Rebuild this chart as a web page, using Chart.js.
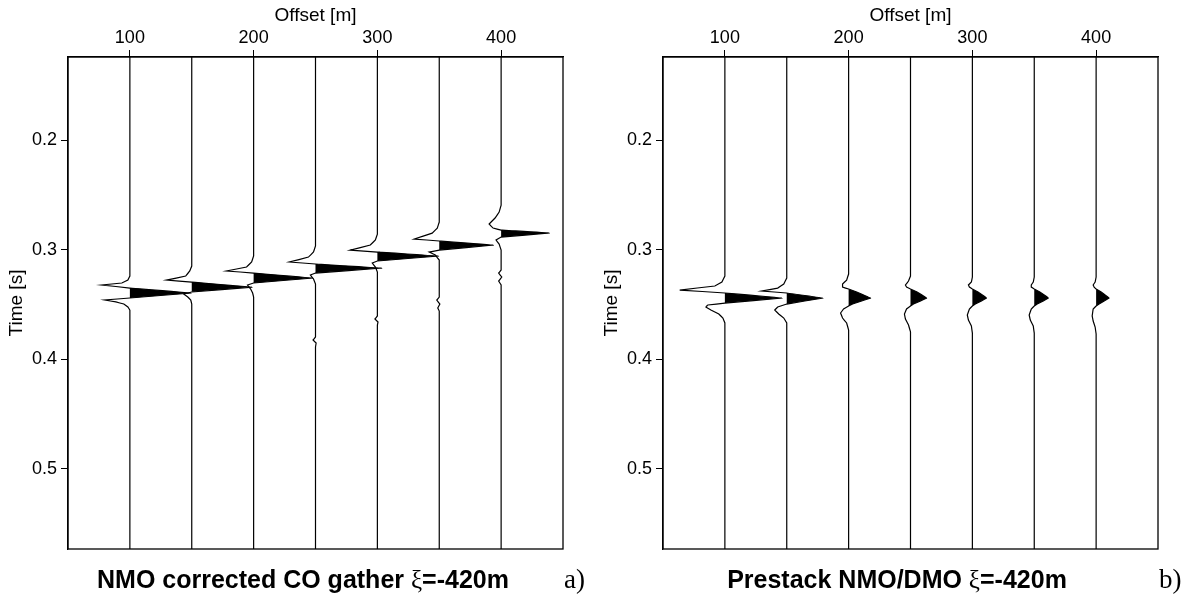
<!DOCTYPE html>
<html>
<head>
<meta charset="utf-8">
<script src="https://cdn.jsdelivr.net/npm/chart.js"></script>
<style>
  body { margin: 0; background: #fff; width: 1199px; height: 598px; overflow: hidden; position: relative; }
  canvas { position: absolute; top: 0; }
  #nmoChart { left: 0; }
  #dmoChart { left: 595px; }
</style>
</head>
<body>
<canvas id="nmoChart" width="600" height="598"></canvas>
<canvas id="dmoChart" width="604" height="598"></canvas>
<script>
// Trace offsets (m) and axis ticks
const offsets = [100, 150, 200, 250, 300, 350, 400];
const offsetTicks = [100, 200, 300, 400];
const timeTicks = [0.2, 0.3, 0.4, 0.5];

// NMO corrected CO gather: [time s, amplitude m] per trace
const nmoTraces = [
  [[0.10,0],[0.3241,0],[0.3278,-1.6],[0.3305,-6.5],[0.3323,-22.7],[0.3351,0],[0.3396,49.4],[0.3442,0],[0.3460,-20.3],[0.3478,-11.3],[0.3497,-4.9],[0.3524,-1.6],[0.3552,0],[0.60,0]],
  [[0.10,0],[0.3150,0],[0.3195,-1.6],[0.3241,-4.9],[0.3278,-20.3],[0.3296,0],[0.3342,48.6],[0.3387,0],[0.3405,-6.5],[0.3433,-3.2],[0.3460,-0.8],[0.3497,0],[0.60,0]],
  [[0.10,0],[0.3058,0],[0.3113,-1.6],[0.3159,-5.7],[0.3195,-21.9],[0.3214,0],[0.3259,47.8],[0.3305,0],[0.3323,-4.9],[0.3360,-2.4],[0.3396,-0.8],[0.3433,0],[0.60,0]],
  [[0.10,0],[0.2967,0],[0.3022,-1.6],[0.3068,-5.7],[0.3113,-21.1],[0.3131,0],[0.3168,53.5],[0.3214,0],[0.3232,-4.1],[0.3268,-1.6],[0.3314,0],[0.3798,0],[0.3826,-2.0],[0.3853,0.5],[0.3889,0],[0.60,0]],
  [[0.10,0],[0.2858,0],[0.2912,-1.6],[0.2958,-5.7],[0.3004,-21.9],[0.3022,0],[0.3058,49.4],[0.3104,0],[0.3122,-4.1],[0.3159,-1.6],[0.3205,0],[0.3606,0],[0.3634,-2.0],[0.3661,0.5],[0.3689,0],[0.60,0]],
  [[0.10,0],[0.2748,0],[0.2803,-1.6],[0.2849,-5.7],[0.2903,-20.3],[0.2921,0],[0.2958,43.7],[0.3004,0],[0.3022,-8.1],[0.3049,-3.2],[0.3095,0],[0.3433,0],[0.3460,-2.0],[0.3497,0.5],[0.3533,-1.2],[0.3561,0],[0.60,0]],
  [[0.10,0],[0.2593,0],[0.2657,-1.6],[0.2711,-4.9],[0.2766,-9.7],[0.2803,-6.5],[0.2821,0],[0.2848,38.9],[0.2885,0],[0.2912,-4.1],[0.2949,-1.6],[0.3004,0],[0.3186,0],[0.3214,-2.0],[0.3250,0.5],[0.3287,-2.0],[0.3323,0],[0.60,0]]
];

// Prestack NMO/DMO: [time s, amplitude m] per trace
const dmoTraces = [
  [[0.10,0],[0.3241,0],[0.3296,-2.4],[0.3332,-8.1],[0.3369,-36.5],[0.3396,0],[0.3442,46.2],[0.3488,0],[0.3506,-13.8],[0.3524,-15.4],[0.3552,-11.3],[0.3588,-4.9],[0.3625,-1.6],[0.3670,0],[0.60,0]],
  [[0.10,0],[0.3259,0],[0.3314,-2.4],[0.3351,-7.3],[0.3378,-20.3],[0.3396,0],[0.3442,29.2],[0.3497,0],[0.3524,-7.3],[0.3552,-9.7],[0.3588,-6.5],[0.3625,-2.4],[0.3670,0],[0.60,0]],
  [[0.10,0],[0.3223,0],[0.3278,-1.6],[0.3314,-4.9],[0.3342,-4.9],[0.3360,0],[0.3387,6.5],[0.3415,12.2],[0.3442,17.8],[0.3469,10.5],[0.3497,3.2],[0.3515,0],[0.3542,-4.1],[0.3579,-6.5],[0.3625,-4.9],[0.3670,-1.6],[0.3734,0],[0.60,0]],
  [[0.10,0],[0.3241,0],[0.3287,-1.6],[0.3323,-4.1],[0.3342,-3.2],[0.3360,0],[0.3387,5.3],[0.3415,9.3],[0.3442,13.0],[0.3469,8.1],[0.3497,2.4],[0.3515,0],[0.3542,-3.2],[0.3588,-4.9],[0.3634,-4.1],[0.3689,-1.6],[0.3752,0],[0.60,0]],
  [[0.10,0],[0.3250,0],[0.3296,-0.8],[0.3323,-3.2],[0.3342,-2.4],[0.3360,0],[0.3387,4.5],[0.3415,8.1],[0.3442,11.3],[0.3469,7.3],[0.3497,2.4],[0.3515,0],[0.3542,-2.4],[0.3597,-4.1],[0.3643,-3.2],[0.3698,-0.8],[0.3762,0],[0.60,0]],
  [[0.10,0],[0.3250,0],[0.3296,-0.8],[0.3323,-2.4],[0.3342,-2.4],[0.3360,0],[0.3387,4.5],[0.3415,8.1],[0.3442,11.3],[0.3469,7.3],[0.3497,2.4],[0.3515,0],[0.3542,-2.4],[0.3597,-4.1],[0.3643,-3.2],[0.3698,-0.8],[0.3762,0],[0.60,0]],
  [[0.10,0],[0.3250,0],[0.3296,-0.8],[0.3323,-2.4],[0.3342,-1.6],[0.3360,0],[0.3387,4.1],[0.3415,7.3],[0.3442,10.5],[0.3469,6.5],[0.3497,2.4],[0.3515,0],[0.3542,-2.4],[0.3606,-3.2],[0.3652,-2.4],[0.3707,-0.8],[0.3771,0],[0.60,0]]
];

Chart.defaults.font.family = "'Liberation Sans', Arial, sans-serif";
Chart.defaults.color = '#000';

// box around the plot area
const framePlugin = {
  id: 'frame',
  afterDraw(chart) {
    const { ctx, chartArea: a } = chart;
    ctx.save();
    ctx.strokeStyle = '#000';
    ctx.lineWidth = 1.3;
    ctx.strokeRect(a.left, a.top, a.right - a.left, a.bottom - a.top);
    ctx.restore();
  }
};

// caption under the panel, with the greek xi in a serif face, plus the panel letter
const captionPlugin = {
  id: 'caption',
  afterDraw(chart, args, opts) {
    const { ctx, chartArea: a } = chart;
    const bold = "bold 25px 'Liberation Sans', Arial, sans-serif";
    const serif = "25px 'Liberation Serif', 'Times New Roman', serif";
    const parts = [[opts.before, bold], ['\u03be', serif], [opts.after, bold]];
    ctx.save();
    ctx.fillStyle = '#000';
    ctx.textBaseline = 'alphabetic';
    let total = 0;
    parts.forEach(p => { ctx.font = p[1]; total += ctx.measureText(p[0]).width; });
    let x = opts.center - total / 2;
    parts.forEach(p => {
      ctx.font = p[1];
      ctx.fillText(p[0], x, 588);
      x += ctx.measureText(p[0]).width;
    });
    ctx.font = "27px 'Liberation Serif', 'Times New Roman', serif";
    ctx.fillText(opts.letter, a.right + 1, 588);
    ctx.restore();
  }
};

function makePanel(canvasId, traces, caption, rightPad) {
  const datasets = [];
  traces.forEach((trace, i) => {
    const base = offsets[i];
    // positive lobes filled black against the trace baseline (tiny bumps left unfilled)
    datasets.push({
      data: trace.map(([t, a]) => ({ x: base + (a > 1 ? a : 0), y: t })),
      borderColor: 'rgba(0,0,0,0)',
      borderWidth: 0,
      backgroundColor: '#000',
      pointRadius: 0,
      fill: { target: { value: base } }
    });
    // the wiggle itself
    datasets.push({
      data: trace.map(([t, a]) => ({ x: base + a, y: t })),
      borderColor: '#000',
      borderWidth: 1.2,
      pointRadius: 0,
      fill: false
    });
  });

  return new Chart(document.getElementById(canvasId), {
    type: 'line',
    data: { datasets },
    options: {
      indexAxis: 'y',
      responsive: false,
      animation: false,
      devicePixelRatio: 1,
      layout: { padding: { left: 0, top: 0, right: rightPad, bottom: 49 } },
      // a tiny tension keeps Chart.js off its per-pixel fast path, which
      // merges points of vertical traces that fall in the same pixel column
      elements: { line: { tension: 0.0001, capBezierPoints: false } },
      plugins: {
        legend: { display: false },
        tooltip: { enabled: false },
        caption
      },
      scales: {
        x: {
          type: 'linear',
          position: 'top',
          min: 50,
          max: 450,
          afterBuildTicks: s => { s.ticks = offsetTicks.map(v => ({ value: v })); },
          afterFit: s => { s.height = 57; },
          ticks: { font: { size: 18 }, color: '#000', padding: 1, maxRotation: 0, autoSkip: false },
          grid: { drawOnChartArea: false, tickLength: 7, color: '#000', lineWidth: 1 },
          border: { color: '#000', width: 1.3 },
          title: { display: true, text: 'Offset [m]', font: { size: 19 }, color: '#000', padding: { top: 4, bottom: 0 } }
        },
        y: {
          type: 'linear',
          reverse: true,
          min: 0.124,
          max: 0.5735,
          afterBuildTicks: s => { s.ticks = timeTicks.map(v => ({ value: v })); },
          afterFit: s => { s.width = 68; },
          ticks: { font: { size: 18 }, color: '#000', padding: 4, autoSkip: false, callback: v => v.toFixed(1) },
          grid: { drawOnChartArea: false, tickLength: 7, color: '#000', lineWidth: 1 },
          border: { color: '#000', width: 1.3 },
          title: { display: true, text: 'Time [s]', font: { size: 19 }, color: '#000', padding: { top: 5, bottom: 0 } }
        }
      }
    },
    plugins: [framePlugin, captionPlugin]
  });
}

makePanel('nmoChart', nmoTraces, { before: 'NMO corrected CO gather ', after: '=-420m', center: 303, letter: 'a)' }, 37);
makePanel('dmoChart', dmoTraces, { before: 'Prestack NMO/DMO ', after: '=-420m', center: 302, letter: 'b)' }, 41);
</script>
</body>
</html>
